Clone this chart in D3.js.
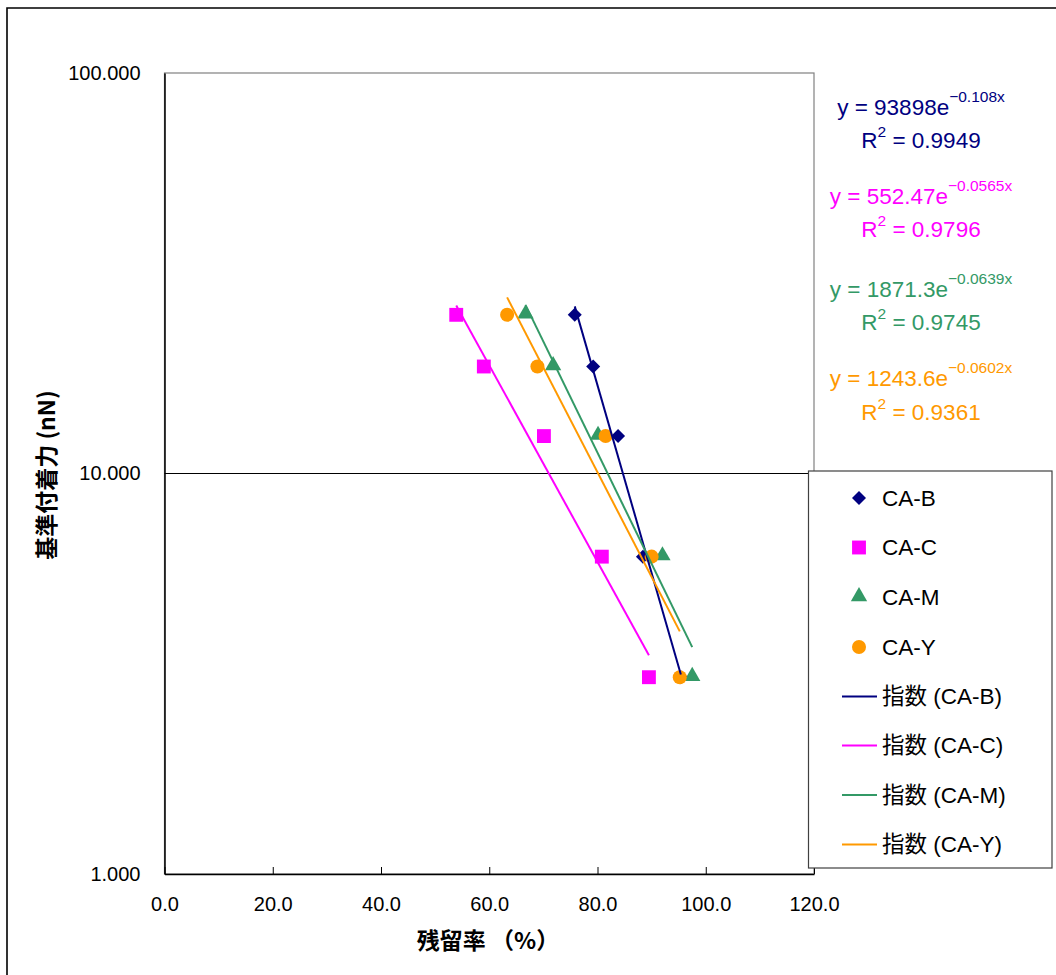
<!DOCTYPE html>
<html>
<head>
<meta charset="utf-8">
<script src="https://cdn.jsdelivr.net/npm/d3@7"></script>
<style>
  html, body { margin: 0; padding: 0; background: #fff; }
  svg { display: block; }
  text { font-family: "Liberation Sans", Arial, "Noto Sans CJK JP", sans-serif; }
</style>
</head>
<body>
<script>
// ---------- data ----------
const seriesNames = ["CA-B", "CA-C", "CA-M", "CA-Y"];
const seriesColors = ["#000080", "#FF00FF", "#339966", "#FF9900"];
const forceValues = [24.9, 18.5, 12.4, 6.2, 3.1];          // 基準付着力 (nN)
const retentionB = [75.8, 79.2, 83.8, 88.4, 95.4];         // 残留率 (%)
const retentionC = [53.9, 59.0, 70.1, 80.8, 89.5];
const retentionM = [66.7, 71.8, 80.1, 92.0, 97.5];
const retentionY = [63.3, 68.9, 81.5, 90.0, 95.2];
const trendA = [93898, 552.47, 1871.3, 1243.6];
const trendB = [-0.108, -0.0565, -0.0639, -0.0602];
const trendAText = ["93898", "552.47", "1871.3", "1243.6"];
const trendBText = ["\u22120.108x", "\u22120.0565x", "\u22120.0639x", "\u22120.0602x"];
const r2Text = ["0.9949", "0.9796", "0.9745", "0.9361"];
const xTicks = [0, 20, 40, 60, 80, 100, 120];
const yTicks = [1, 10, 100];

const retention = [retentionB, retentionC, retentionM, retentionY];

// ---------- layout ----------
const W = 1056, H = 975;
const svg = d3.select("body").append("svg").attr("width", W).attr("height", H);
svg.append("rect").attr("width", W).attr("height", H).attr("fill", "#fff");

// outer chart border (only left & top visible)
svg.append("path").attr("d", `M7,${H} L7,8 L${W},8`).attr("fill", "none")
  .attr("stroke", "#000").attr("stroke-width", 1.6);

const L = 164.5, R = 814, T = 73, B = 874;
const x = d3.scaleLinear().domain([0, 120]).range([L, R]);
const y = d3.scaleLog().domain([1, 100]).range([B, T]);

// plot frame (top/right gray)
svg.append("rect").attr("x", L).attr("y", T).attr("width", R - L).attr("height", B - T)
  .attr("fill", "none").attr("stroke", "#808080").attr("stroke-width", 1.2);

// gridline
svg.append("g").selectAll("line").data([10]).join("line")
  .attr("x1", L).attr("x2", R).attr("y1", d => y(d)).attr("y2", d => y(d))
  .attr("stroke", "#000").attr("stroke-width", 1);

// axes
const xAxis = d3.axisBottom(x).tickValues(xTicks).tickSizeInner(-7).tickSizeOuter(0)
  .tickFormat(d3.format(".1f"));
const gx = svg.append("g").attr("transform", `translate(0,${B})`).call(xAxis);
gx.select(".domain").attr("stroke", "#000").attr("stroke-width", 1.5);
gx.selectAll(".tick line").attr("stroke", "#000");
gx.selectAll(".tick text").attr("font-size", 20).attr("fill", "#000")
  .attr("y", 31).attr("dy", "0.32em")
  .style("font-family", "'Liberation Sans', Arial, sans-serif");

const yAxis = d3.axisLeft(y).tickValues(yTicks).tickSizeInner(0).tickSizeOuter(0)
  .tickFormat(d3.format(".3f"));
const gy = svg.append("g").attr("transform", `translate(${L},0)`).call(yAxis);
gy.select(".domain").attr("stroke", "#000").attr("stroke-width", 1.5);
gy.selectAll(".tick text").attr("font-size", 20).attr("fill", "#000").attr("x", -24)
  .style("font-family", "'Liberation Sans', Arial, sans-serif");

// axis titles
svg.append("text").attr("transform", "translate(45,475) rotate(-90)")
  .attr("text-anchor", "middle").attr("dominant-baseline", "central")
  .attr("font-size", 23).attr("font-weight", "bold")
  .style("font-family", "'Noto Sans CJK JP', sans-serif")
  .text("基準付着力 (nN)");
svg.append("text").attr("x", 488).attr("y", 939)
  .attr("text-anchor", "middle").attr("dominant-baseline", "central")
  .attr("font-size", 23).attr("font-weight", "bold")
  .style("font-family", "'Noto Sans CJK JP', sans-serif")
  .text("残留率 （%）");

// ---------- markers ----------
const markerTypes = [d3.symbolDiamond2, d3.symbolSquare2, d3.symbolTriangle2, d3.symbolCircle];
const markerSizes = [125, 245, 190, 155];
function symbolPath(i) {
  if (i === 0) return d3.symbol().type(d3.symbolSquare2).size(markerSizes[0])();
  return d3.symbol().type(markerTypes[i]).size(markerSizes[i])();
}
function markerTransform(i, px, py) {
  if (i === 0) return `translate(${px},${py}) rotate(45)`;
  if (i === 2) return `translate(${px},${py - 1})`;
  return `translate(${px},${py})`;
}
seriesNames.forEach((name, i) => {
  const pts = retention[i].map((v, k) => ({ x: v, y: forceValues[k] }));
  svg.append("g").selectAll("path").data(pts).join("path")
    .attr("d", symbolPath(i))
    .attr("transform", d => markerTransform(i, x(d.x), y(d.y)))
    .attr("fill", seriesColors[i]);
});

// ---------- trendlines ----------
const line = d3.line().x(d => x(d[0])).y(d => y(d[1]));
seriesNames.forEach((name, i) => {
  const [x0, x1] = d3.extent(retention[i]);
  const pts = [x0, x1].map(v => [v, trendA[i] * Math.exp(trendB[i] * v)]);
  svg.append("path").attr("d", line(pts)).attr("fill", "none")
    .attr("stroke", seriesColors[i]).attr("stroke-width", 2);
});

// ---------- equations ----------
const eqBase = [115, 204, 297, 386];
const r2Base = [148, 237, 330, 420];
const eqCx = 921;
seriesNames.forEach((name, i) => {
  const t1 = svg.append("text").attr("x", eqCx).attr("y", eqBase[i])
    .attr("text-anchor", "middle").attr("fill", seriesColors[i]).attr("font-size", 22.5);
  t1.append("tspan").text(`y = ${trendAText[i]}e`);
  t1.append("tspan").attr("dy", -13).attr("font-size", 15.5).text(trendBText[i]);
  const t2 = svg.append("text").attr("x", eqCx).attr("y", r2Base[i])
    .attr("text-anchor", "middle").attr("fill", seriesColors[i]).attr("font-size", 22.5);
  t2.append("tspan").text("R");
  t2.append("tspan").attr("dy", -11).attr("font-size", 15.5).text("2");
  t2.append("tspan").attr("dy", 11).text(` = ${r2Text[i]}`);
});

// ---------- legend ----------
const lg = svg.append("g");
lg.append("rect").attr("x", 808.5).attr("y", 471).attr("width", 243.5).attr("height", 397)
  .attr("fill", "#fff").attr("stroke", "#404040").attr("stroke-width", 1.2);
const rowY = [498, 547.5, 597.5, 647, 696.5, 745.5, 795, 844.5];
seriesNames.forEach((name, i) => {
  const ry = rowY[i];
  lg.append("path").attr("d", symbolPath(i))
    .attr("transform", markerTransform(i, 859, ry)).attr("fill", seriesColors[i]);
  lg.append("text").attr("x", 882).attr("y", ry).attr("dominant-baseline", "central")
    .attr("font-size", 22.5).attr("fill", "#000").text(name);
});
seriesNames.forEach((name, i) => {
  const ry = rowY[i + 4];
  lg.append("line").attr("x1", 842).attr("x2", 877).attr("y1", ry).attr("y2", ry)
    .attr("stroke", seriesColors[i]).attr("stroke-width", 2);
  lg.append("text").attr("x", 882).attr("y", ry).attr("dominant-baseline", "central")
    .attr("font-size", 22.5).attr("fill", "#000").text(`指数 (${name})`);
});
</script>
</body>
</html>
